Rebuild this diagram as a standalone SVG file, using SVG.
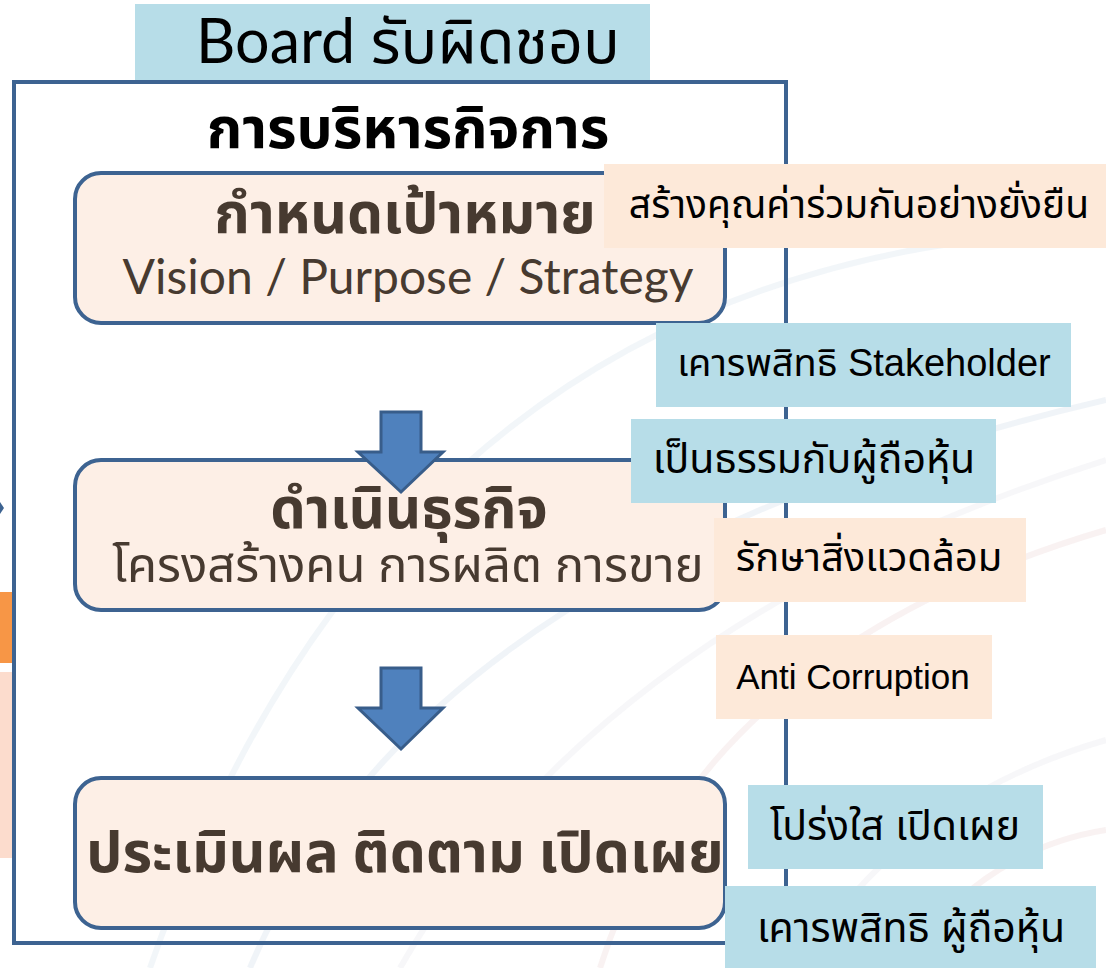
<svg xmlns="http://www.w3.org/2000/svg" width="1106" height="968" viewBox="0 0 1106 968">
<defs>
<style>
.frame{fill:none;stroke:#3d6391;stroke-width:4}
.node{fill:#fdefe6;stroke:#3d6391;stroke-width:4}
.blue{fill:#b7dde8}
.peach{fill:#fde9d9}
.arrow{fill:#4f81bd;stroke:#385d8a;stroke-width:3;stroke-linejoin:miter}
.tb{font-family:"Lato","Noto Sans","Noto Sans Thai",sans-serif;font-weight:bold;fill:#473a30;text-anchor:middle}
.tn{font-family:"Lato","Noto Sans","Noto Sans Thai",sans-serif;fill:#473a30;text-anchor:middle}
.lbl{font-family:"Liberation Sans","Noto Sans Thai",sans-serif;fill:#000;text-anchor:middle}
.arc{fill:none;stroke-width:6;opacity:0.15}
</style>
</defs>
<rect width="1106" height="968" fill="#fff"/>
<g id="background">
<path class="arc" d="M 250 968 Q 420 560 1106 400" stroke="#9ab6d0"/>
<path class="arc" d="M 600 968 Q 700 650 1106 530" stroke="#d9a7a7"/>
<path class="arc" d="M 400 968 Q 600 620 1106 460" stroke="#c8c8d8"/>
<path class="arc" d="M 150 968 Q 400 250 1106 230" stroke="#a8c0d8"/>
<path class="arc" d="M 800 968 Q 900 800 1106 740" stroke="#c8c8d8"/>
<path class="arc" d="M 900 968 Q 980 850 1106 830" stroke="#d9a7a7"/>
<rect x="0" y="592" width="12" height="71" fill="#f79646"/>
<rect x="0" y="672" width="12" height="186" fill="#fcdccd"/>
<path d="M 0 502 L 4 508 L 0 514 Z" fill="#3d6391"/>
</g>
<g id="board">
<rect x="135" y="4" width="515" height="76" class="blue"/>
<text x="408" y="63" font-family="Lato,'Noto Sans','Noto Sans Thai',sans-serif" font-size="61" text-anchor="middle" fill="#000">Board รับผิดชอบ</text>
</g>
<g id="frame">
<rect x="14" y="82" width="772" height="861" class="frame"/>
<text x="408" y="148" font-family="Lato,'Noto Sans','Noto Sans Thai',sans-serif" font-weight="bold" font-size="57" text-anchor="middle" fill="#000">การบริหารกิจการ</text>
</g>
<g id="node-goal">
<rect x="75" y="173" width="650" height="150" rx="26" class="node"/>
<text x="405" y="233" class="tb" font-size="57">กำหนดเป้าหมาย</text>
<text x="408" y="294" class="tn" font-size="48">Vision / Purpose / Strategy</text>
</g>
<g id="node-operate">
<rect x="75" y="460" width="650" height="150" rx="26" class="node"/>
<text x="409" y="528" class="tb" font-size="56">ดำเนินธุรกิจ</text>
<text x="408" y="582" class="tn" font-size="49">โครงสร้างคน การผลิต การขาย</text>
</g>
<g id="node-evaluate">
<rect x="75" y="778" width="650" height="150" rx="26" class="node"/>
<text x="405" y="872" class="tb" font-size="57">ประเมินผล ติดตาม เปิดเผย</text>
</g>
<g id="connectors">
<path class="arrow" d="M 381 412 L 421 412 L 421 452 L 443 452 L 401 492 L 358 452 L 381 452 Z"/>
<path class="arrow" d="M 381 668 L 421 668 L 421 708 L 443 708 L 401 749 L 358 708 L 381 708 Z"/>
</g>
<g id="label-shared-value">
<rect x="604" y="164" width="502" height="84" class="peach"/>
<text x="859" y="218" class="lbl" font-size="39">สร้างคุณค่าร่วมกันอย่างยั่งยืน</text>
</g>
<g id="label-stakeholder">
<rect x="656" y="323" width="415" height="84" class="blue"/>
<text x="864" y="376" class="lbl" font-size="38">เคารพสิทธิ Stakeholder</text>
</g>
<g id="label-fair">
<rect x="631" y="419" width="365" height="84" class="blue"/>
<text x="814" y="473" class="lbl" font-size="41">เป็นธรรมกับผู้ถือหุ้น</text>
</g>
<g id="label-environment">
<rect x="714" y="518" width="312" height="84" class="peach"/>
<text x="869" y="571" class="lbl" font-size="40">รักษาสิ่งแวดล้อม</text>
</g>
<g id="label-anticorruption">
<rect x="716" y="635" width="276" height="84" class="peach"/>
<text x="853" y="689" class="lbl" font-size="35">Anti Corruption</text>
</g>
<g id="label-transparent">
<rect x="748" y="785" width="295" height="84" class="blue"/>
<text x="895" y="840" class="lbl" font-size="41">โปร่งใส เปิดเผย</text>
</g>
<g id="label-shareholder-rights">
<rect x="725" y="886" width="371" height="82" class="blue"/>
<text x="911" y="942" class="lbl" font-size="41">เคารพสิทธิ ผู้ถือหุ้น</text>
</g>
</svg>
